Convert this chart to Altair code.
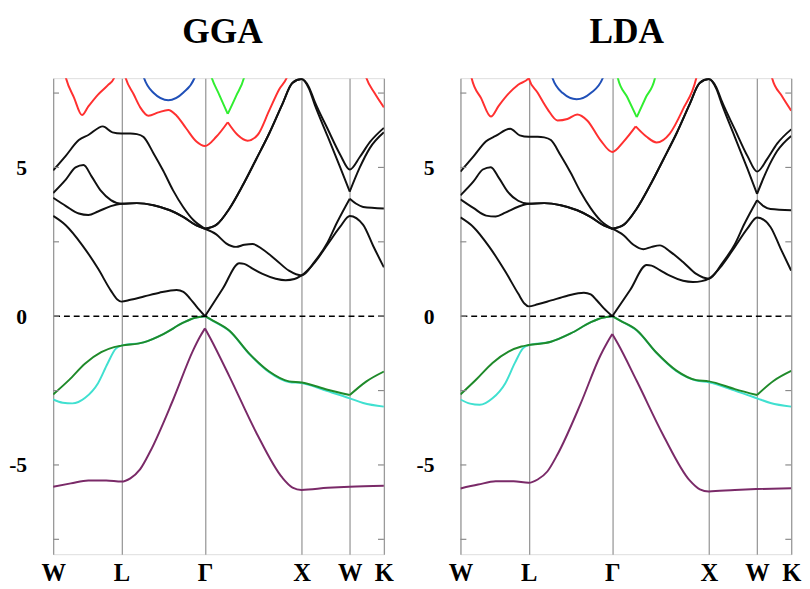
import altair as alt
import pandas as pd

# high-symmetry k-path positions and labels
KPATH = [0.0, 0.7071, 1.5731, 2.5731, 3.0731, 3.4267]
KLABELS = ["W", "L", "Γ", "X", "W", "K"]
YTICKS = [-7.5, -5, -2.5, 0, 2.5, 5, 7.5]
YLABELS = [-5, 0, 5]

COLOR_KEYS = ["black", "red", "blue", "lime", "cyan", "green", "purple"]
COLOR_VALUES = ["#111111", "#ff3030", "#2050b8", "#30ee30", "#40e0d0", "#1f8a2a", "#7a2a68"]

# ---------------- GGA bands (k, E) ----------------
gga_cyan_1 = [(0, -2.80), (0.100, -2.91), (0.199, -2.93), (0.332, -2.74), (0.465, -2.25), (0.564, -1.59),
              (0.647, -1.10), (0.707, -0.99), (0.937, -0.88), (1.142, -0.60), (1.347, -0.22), (1.47, -0.05), (1.573, 0.0)]
gga_cyan_2 = [(1.573, 0.0), (1.655, -0.16), (1.827, -0.50), (2.032, -1.27), (2.238, -1.88), (2.443, -2.21),
              (2.573, -2.25), (2.843, -2.52), (3.073, -2.76), (3.212, -2.92), (3.4267, -3.04)]
gga_green_1 = [(0, -2.63), (0.166, -2.14), (0.332, -1.59), (0.498, -1.21), (0.631, -1.04), (0.707, -0.99),
               (0.937, -0.88), (1.142, -0.60), (1.347, -0.22), (1.47, -0.05), (1.573, 0.0)]
gga_green_2 = [(1.573, 0.0), (1.655, -0.15), (1.827, -0.49), (2.032, -1.26), (2.238, -1.86), (2.443, -2.19),
               (2.573, -2.23), (2.843, -2.47), (3.073, -2.65)]
gga_green_3 = [(3.073, -2.65), (3.246, -2.19), (3.4267, -1.86)]
gga_purple_1 = [(0, -5.73), (0.183, -5.62), (0.365, -5.52), (0.55, -5.52), (0.707, -5.56), (0.80, -5.45),
                (0.90, -5.15), (1.005, -4.55), (1.244, -2.80), (1.450, -1.15), (1.518, -0.71), (1.573, -0.41)]
gga_purple_2 = [(1.573, -0.41), (1.63, -0.75), (1.827, -2.03), (2.101, -3.89), (2.375, -5.43), (2.48, -5.76),
                (2.573, -5.84), (2.843, -5.77), (3.073, -5.73), (3.4267, -5.70)]
gga_k1a = [(0, 3.37), (0.133, 3.05), (0.299, 2.40), (0.465, 1.60), (0.598, 0.86), (0.665, 0.56), (0.707, 0.49),
           (0.80, 0.55), (0.94, 0.66), (1.10, 0.79), (1.279, 0.88), (1.35, 0.82), (1.416, 0.60), (1.484, 0.33), (1.573, 0.0)]
gga_k1b = [(1.573, 0.0), (1.758, 0.93), (1.929, 1.78), (1.98, 1.76), (2.066, 1.60), (2.169, 1.42), (2.306, 1.26),
           (2.409, 1.21), (2.50, 1.25), (2.573, 1.37), (2.711, 1.81), (2.843, 2.41), (2.974, 3.01), (3.073, 3.37),
           (3.212, 3.07), (3.316, 2.36), (3.4267, 1.64)]
gga_k2a = [(0, 4.14), (0.133, 4.60), (0.232, 5.00), (0.315, 5.08), (0.398, 4.70), (0.498, 4.20), (0.598, 3.90),
           (0.707, 3.78), (0.868, 3.80), (1.039, 3.73), (1.210, 3.56), (1.347, 3.34), (1.484, 3.05), (1.573, 2.94)]
gga_k2b = [(1.573, 2.94), (1.69, 2.75), (1.792, 2.45), (1.895, 2.33), (1.981, 2.40), (2.066, 2.43), (2.169, 2.25),
           (2.306, 1.90), (2.443, 1.53), (2.573, 1.37), (2.711, 1.84), (2.843, 2.48), (2.941, 3.15), (3.073, 3.95)]
gga_k2c = [(3.073, 3.95), (3.14, 3.78), (3.212, 3.67), (3.4267, 3.62)]
gga_k3a = [(0, 3.98), (0.133, 3.70), (0.266, 3.45), (0.365, 3.40), (0.465, 3.52), (0.598, 3.70), (0.707, 3.78),
           (0.868, 3.80), (1.039, 3.73), (1.210, 3.56), (1.347, 3.34), (1.484, 3.05), (1.573, 2.94)]
gga_k3b = [(1.573, 2.94), (1.690, 3.07), (1.827, 3.62), (1.963, 4.39), (2.101, 5.26), (2.238, 6.14), (2.375, 7.13),
           (2.478, 7.84), (2.573, 7.97), (2.65, 7.65), (2.711, 7.10), (2.843, 6.05), (2.974, 5.00), (3.073, 4.19)]
gga_k3c = [(3.073, 4.19), (3.177, 5.00), (3.281, 5.65), (3.4267, 6.18)]
gga_k4a = [(0, 4.90), (0.133, 5.40), (0.266, 5.92), (0.365, 6.09), (0.515, 6.38), (0.614, 6.18), (0.707, 6.14),
           (0.800, 6.14), (0.868, 6.12), (0.937, 6.02), (1.039, 5.48), (1.142, 4.88), (1.244, 4.22), (1.347, 3.67),
           (1.450, 3.24), (1.573, 2.94)]
gga_k4b = [(1.573, 2.94), (1.690, 3.07), (1.827, 3.62), (1.963, 4.39), (2.101, 5.26), (2.238, 6.14), (2.375, 7.13),
           (2.478, 7.84), (2.573, 7.97), (2.65, 7.70), (2.711, 7.20), (2.843, 6.30), (2.974, 5.43), (3.073, 4.93),
           (3.177, 5.35), (3.281, 5.85), (3.4267, 6.33)]
gga_r1 = [(0.10, 8.45), (0.133, 8.0), (0.216, 7.35), (0.299, 6.76), (0.365, 7.05), (0.465, 7.45), (0.565, 7.76),
          (0.631, 8.0), (0.66, 8.35)]
gga_r2a = [(0.72, 8.4), (0.752, 8.0), (0.834, 7.46), (0.902, 7.02), (0.988, 6.74), (1.090, 6.85), (1.193, 6.93),
           (1.279, 6.74), (1.381, 6.30), (1.484, 5.87), (1.573, 5.72), (1.690, 6.03), (1.809, 6.52)]
gga_r2b = [(1.809, 6.52), (1.912, 6.09), (2.015, 5.90), (2.118, 6.09), (2.238, 6.91), (2.341, 7.62), (2.426, 8.06),
           (2.46, 8.4)]
gga_r3 = [(3.21, 8.4), (3.246, 8.0), (3.33, 7.50), (3.4267, 7.02)]
gga_blue = [(0.90, 8.5), (0.937, 8.05), (1.039, 7.51), (1.193, 7.26), (1.347, 7.51), (1.47, 8.05), (1.50, 8.5)]
gga_lime_a = [(1.60, 8.5), (1.638, 8.06), (1.72, 7.45), (1.809, 6.80)]
gga_lime_b = [(1.809, 6.80), (1.895, 7.40), (1.981, 8.06), (2.01, 8.5)]

# ---------------- LDA bands (k, E) ----------------
lda_cyan_1 = [(0, -2.80), (0.100, -2.94), (0.199, -2.98), (0.332, -2.76), (0.465, -2.25), (0.564, -1.57),
              (0.647, -1.08), (0.707, -0.97), (0.937, -0.86), (1.142, -0.58), (1.347, -0.21), (1.47, -0.05), (1.573, 0.0)]
lda_cyan_2 = [(1.573, 0.0), (1.655, -0.15), (1.827, -0.48), (2.032, -1.24), (2.238, -1.85), (2.443, -2.16),
              (2.573, -2.22), (2.843, -2.50), (3.073, -2.76), (3.212, -2.92), (3.4267, -3.04)]
lda_green_1 = [(0, -2.63), (0.166, -2.12), (0.332, -1.57), (0.498, -1.19), (0.631, -1.02), (0.707, -0.97),
               (0.937, -0.86), (1.142, -0.58), (1.347, -0.21), (1.47, -0.05), (1.573, 0.0)]
lda_green_2 = [(1.573, 0.0), (1.655, -0.15), (1.827, -0.47), (2.032, -1.23), (2.238, -1.83), (2.443, -2.15),
               (2.573, -2.19), (2.843, -2.45), (3.073, -2.65)]
lda_green_3 = [(3.073, -2.65), (3.246, -2.17), (3.4267, -1.84)]
lda_purple_1 = [(0, -5.79), (0.183, -5.66), (0.365, -5.55), (0.55, -5.55), (0.707, -5.60), (0.80, -5.49),
                (0.90, -5.22), (1.005, -4.65), (1.244, -2.95), (1.450, -1.32), (1.518, -0.90), (1.573, -0.60)]
lda_purple_2 = [(1.573, -0.60), (1.63, -0.92), (1.827, -2.18), (2.101, -4.00), (2.375, -5.52), (2.48, -5.82),
                (2.573, -5.89), (2.843, -5.84), (3.073, -5.81), (3.4267, -5.78)]
lda_k1a = [(0, 3.32), (0.133, 3.00), (0.299, 2.33), (0.465, 1.50), (0.598, 0.76), (0.665, 0.42), (0.707, 0.33),
           (0.80, 0.40), (0.94, 0.53), (1.10, 0.68), (1.279, 0.79), (1.35, 0.73), (1.416, 0.52), (1.484, 0.27), (1.573, 0.0)]
lda_k1b = [(1.573, 0.0), (1.758, 0.88), (1.929, 1.72), (1.98, 1.70), (2.066, 1.55), (2.169, 1.36), (2.306, 1.19),
           (2.409, 1.15), (2.50, 1.18), (2.573, 1.26), (2.711, 1.72), (2.843, 2.33), (2.974, 2.95), (3.073, 3.32),
           (3.212, 3.00), (3.316, 2.28), (3.4267, 1.53)]
lda_k2a = [(0, 4.06), (0.133, 4.52), (0.232, 4.93), (0.315, 5.01), (0.398, 4.65), (0.498, 4.15), (0.598, 3.88),
           (0.707, 3.78), (0.868, 3.80), (1.039, 3.73), (1.210, 3.56), (1.347, 3.34), (1.484, 3.05), (1.573, 2.94)]
lda_k2b = [(1.573, 2.94), (1.69, 2.72), (1.792, 2.40), (1.895, 2.25), (1.981, 2.33), (2.066, 2.38), (2.169, 2.18),
           (2.306, 1.82), (2.443, 1.42), (2.573, 1.26), (2.711, 1.78), (2.843, 2.42), (2.941, 3.10), (3.073, 3.90)]
lda_k2c = [(3.073, 3.90), (3.14, 3.70), (3.212, 3.60), (3.4267, 3.56)]
lda_k3a = [(0, 3.93), (0.133, 3.64), (0.266, 3.38), (0.365, 3.35), (0.465, 3.48), (0.598, 3.68), (0.707, 3.78),
           (0.868, 3.80), (1.039, 3.73), (1.210, 3.56), (1.347, 3.34), (1.484, 3.05), (1.573, 2.94)]
lda_k3b = [(1.573, 2.94), (1.690, 3.07), (1.827, 3.62), (1.963, 4.39), (2.101, 5.26), (2.238, 6.14), (2.375, 7.13),
           (2.478, 7.84), (2.573, 7.97), (2.65, 7.65), (2.711, 7.10), (2.843, 6.02), (2.974, 4.95), (3.073, 4.11)]
lda_k3c = [(3.073, 4.11), (3.177, 4.92), (3.281, 5.55), (3.4267, 6.06)]
lda_k4a = [(0, 4.86), (0.133, 5.36), (0.266, 5.88), (0.365, 6.06), (0.515, 6.30), (0.614, 6.08), (0.707, 6.03),
           (0.800, 6.03), (0.868, 6.01), (0.937, 5.92), (1.039, 5.40), (1.142, 4.82), (1.244, 4.18), (1.347, 3.64),
           (1.450, 3.22), (1.573, 2.94)]
lda_k4b = [(1.573, 2.94), (1.690, 3.07), (1.827, 3.62), (1.963, 4.39), (2.101, 5.26), (2.238, 6.14), (2.375, 7.13),
           (2.478, 7.84), (2.573, 7.97), (2.65, 7.70), (2.711, 7.20), (2.843, 6.28), (2.974, 5.38), (3.073, 4.86),
           (3.177, 5.28), (3.281, 5.80), (3.4267, 6.28)]
lda_r1 = [(0.09, 8.45), (0.116, 8.0), (0.215, 7.32), (0.315, 6.71), (0.398, 7.08), (0.498, 7.48), (0.598, 7.78),
          (0.707, 8.0), (0.73, 8.3)]
lda_r2a = [(0.69, 8.3), (0.707, 8.0), (0.80, 7.51), (0.902, 6.96), (1.005, 6.58), (1.108, 6.63), (1.210, 6.78),
           (1.313, 6.58), (1.450, 5.92), (1.573, 5.52), (1.690, 5.87), (1.816, 6.38)]
lda_r2b = [(1.816, 6.38), (1.929, 6.03), (2.032, 5.84), (2.169, 6.14), (2.306, 6.96), (2.443, 8.0), (2.47, 8.4)]
lda_r3 = [(3.20, 8.4), (3.229, 8.0), (3.33, 7.40), (3.4267, 6.91)]
lda_blue = [(0.92, 8.5), (0.954, 8.0), (1.06, 7.50), (1.203, 7.29), (1.35, 7.50), (1.474, 8.0), (1.50, 8.5)]
lda_lime_a = [(1.61, 8.4), (1.631, 8.0), (1.73, 7.35), (1.827, 6.69)]
lda_lime_b = [(1.827, 6.69), (1.92, 7.35), (2.015, 8.0), (2.04, 8.4)]

GGA_SERIES = [("cyan", gga_cyan_1), ("cyan", gga_cyan_2), ("green", gga_green_1), ("green", gga_green_2),
              ("green", gga_green_3), ("purple", gga_purple_1), ("purple", gga_purple_2),
              ("black", gga_k1a), ("black", gga_k1b), ("black", gga_k2a), ("black", gga_k2b), ("black", gga_k2c),
              ("black", gga_k3a), ("black", gga_k3b), ("black", gga_k3c), ("black", gga_k4a), ("black", gga_k4b),
              ("red", gga_r1), ("red", gga_r2a), ("red", gga_r2b), ("red", gga_r3), ("blue", gga_blue),
              ("lime", gga_lime_a), ("lime", gga_lime_b)]
LDA_SERIES = [("cyan", lda_cyan_1), ("cyan", lda_cyan_2), ("green", lda_green_1), ("green", lda_green_2),
              ("green", lda_green_3), ("purple", lda_purple_1), ("purple", lda_purple_2),
              ("black", lda_k1a), ("black", lda_k1b), ("black", lda_k2a), ("black", lda_k2b), ("black", lda_k2c),
              ("black", lda_k3a), ("black", lda_k3b), ("black", lda_k3c), ("black", lda_k4a), ("black", lda_k4b),
              ("red", lda_r1), ("red", lda_r2a), ("red", lda_r2b), ("red", lda_r3), ("blue", lda_blue),
              ("lime", lda_lime_a), ("lime", lda_lime_b)]

W, H = 337, 485
FONT = "Liberation Serif"


def to_frame(series, tag):
    rows = []
    for sid, (col, pts) in enumerate(series):
        for i, (k, e) in enumerate(pts):
            rows.append({"s": f"{tag}{sid:02d}", "c": col, "o": i, "k": k, "e": e})
    return pd.DataFrame(rows)


label_expr = ("datum.value < 0.3 ? 'W' : datum.value < 1 ? 'L' : datum.value < 2 ? 'Γ' : "
              "datum.value < 2.8 ? 'X' : datum.value < 3.3 ? 'W' : 'K'")

xscale = alt.Scale(domain=[0, KPATH[-1]], nice=False, zero=False)
yscale = alt.Scale(domain=[-8, 8], nice=False, zero=False)


def panel(series, tag, title, title_dx):
    df = to_frame(series, tag)
    lines = alt.Chart(df).mark_line(interpolate="monotone", strokeWidth=2, clip=True).encode(
        x=alt.X("k:Q", scale=xscale, title=None,
                axis=alt.Axis(values=KPATH, labelExpr=label_expr, grid=True, gridColor="#9a9a9a",
                              gridWidth=1.3, ticks=False, tickSize=0, domain=False, labelFont=FONT,
                              labelFontWeight="bold", labelFontSize=25, labelColor="black",
                              labelPadding=7, labelFlush=False)),
        y=alt.Y("e:Q", scale=yscale, title=None,
                axis=alt.Axis(values=YLABELS, labelExpr="datum.value + ''", ticks=False, tickSize=0,
                              domain=False, grid=False, labelFont=FONT, labelFontWeight="bold",
                              labelFontSize=22, labelColor="black", labelPadding=27)),
        color=alt.Color("c:N", scale=alt.Scale(domain=COLOR_KEYS, range=COLOR_VALUES), legend=None),
        detail="s:N",
        order="o:Q",
    )
    zero = alt.Chart(pd.DataFrame({"e": [0]})).mark_rule(
        color="black", strokeWidth=1.5, strokeDash=[6, 4]).encode(y=alt.Y("e:Q", scale=yscale))
    tdf = pd.DataFrame({"e": YTICKS})
    ticks_l = alt.Chart(tdf).mark_rule(color="#8a8a8a", strokeWidth=1.2).encode(
        y=alt.Y("e:Q", scale=yscale), x=alt.value(0), x2=alt.value(6))
    ticks_r = alt.Chart(tdf).mark_rule(color="#8a8a8a", strokeWidth=1.2).encode(
        y=alt.Y("e:Q", scale=yscale), x=alt.value(W - 6), x2=alt.value(W))
    head = alt.Chart(pd.DataFrame({"t": [title]})).mark_text(
        font=FONT, fontSize=36, fontWeight="bold", color="black", baseline="top", align="center"
    ).encode(text="t:N", x=alt.value(W / 2 + title_dx), y=alt.value(-64))
    return alt.layer(lines, zero, ticks_l, ticks_r, head).properties(width=W, height=H)


chart = alt.hconcat(panel(GGA_SERIES, "g", "GGA", 4), panel(LDA_SERIES, "l", "LDA", 1), spacing=21).properties(
    padding={"left": 0, "top": 0, "right": 0, "bottom": 0}
).configure_view(stroke="#777777", strokeWidth=1.8).configure(background="white")

chart.save("out.html", embed_options={"renderer": "svg", "actions": False})
